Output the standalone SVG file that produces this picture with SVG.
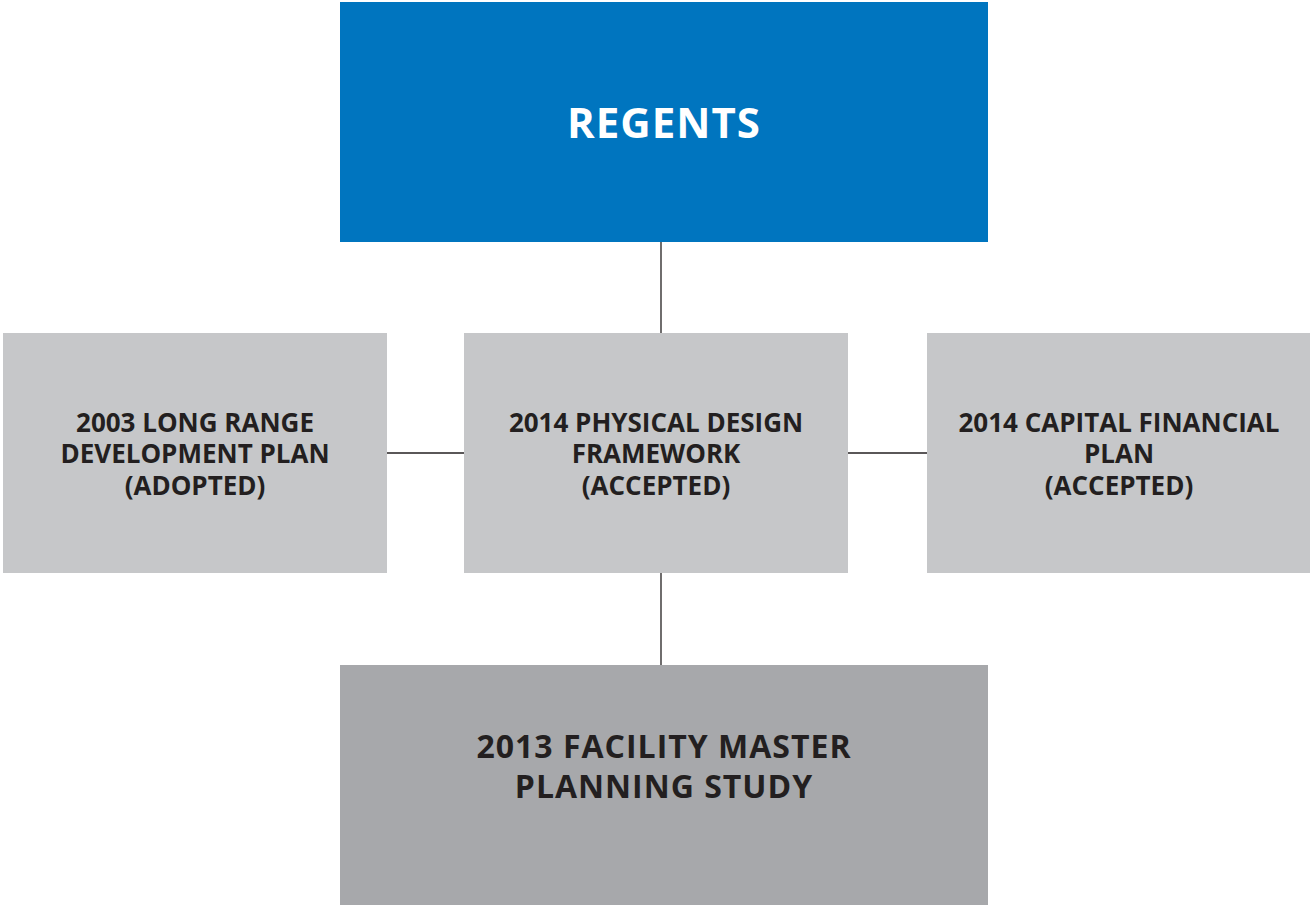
<svg xmlns="http://www.w3.org/2000/svg" width="1310" height="905" viewBox="0 0 1310 905">
<style>
.lbl{font-family:"Open Sans","Noto Sans","Liberation Sans",sans-serif;font-weight:bold;text-anchor:middle;fill:#231f20}
.mid{font-size:26px}
.big{font-size:32px;letter-spacing:1px}
.top{font-size:42px;letter-spacing:1px;fill:#ffffff}
.light{fill:#c6c7c9}
.conn{stroke:#231f20;stroke-width:1.3;fill:none}
</style>
<rect width="1310" height="905" fill="#ffffff"/>
<g id="connectors">
<line class="conn" x1="661" y1="242" x2="661" y2="333"/>
<line class="conn" x1="387" y1="453" x2="464" y2="453"/>
<line class="conn" x1="848" y1="453" x2="927" y2="453"/>
<line class="conn" x1="661" y1="573" x2="661" y2="665"/>
</g>
<g id="regents">
<rect x="340" y="2" width="648" height="240" fill="#0075bf"/>
<text class="lbl top" x="664" y="138">REGENTS</text>
</g>
<g id="lrdp">
<rect class="light" x="3" y="333" width="384" height="240"/>
<text class="lbl mid" x="195" y="432">2003 LONG RANGE</text>
<text class="lbl mid" x="195" y="463">DEVELOPMENT PLAN</text>
<text class="lbl mid" x="195" y="495">(ADOPTED)</text>
</g>
<g id="pdf">
<rect class="light" x="464" y="333" width="384" height="240"/>
<text class="lbl mid" x="656" y="432">2014 PHYSICAL DESIGN</text>
<text class="lbl mid" x="656" y="463">FRAMEWORK</text>
<text class="lbl mid" x="656" y="495">(ACCEPTED)</text>
</g>
<g id="cfp">
<rect class="light" x="927" y="333" width="383" height="240"/>
<text class="lbl mid" x="1119" y="432">2014 CAPITAL FINANCIAL</text>
<text class="lbl mid" x="1119" y="463">PLAN</text>
<text class="lbl mid" x="1119" y="495">(ACCEPTED)</text>
</g>
<g id="fmps">
<rect x="340" y="665" width="648" height="240" fill="#a7a8ab"/>
<text class="lbl big" x="664" y="758">2013 FACILITY MASTER</text>
<text class="lbl big" x="664" y="798">PLANNING STUDY</text>
</g>
</svg>
